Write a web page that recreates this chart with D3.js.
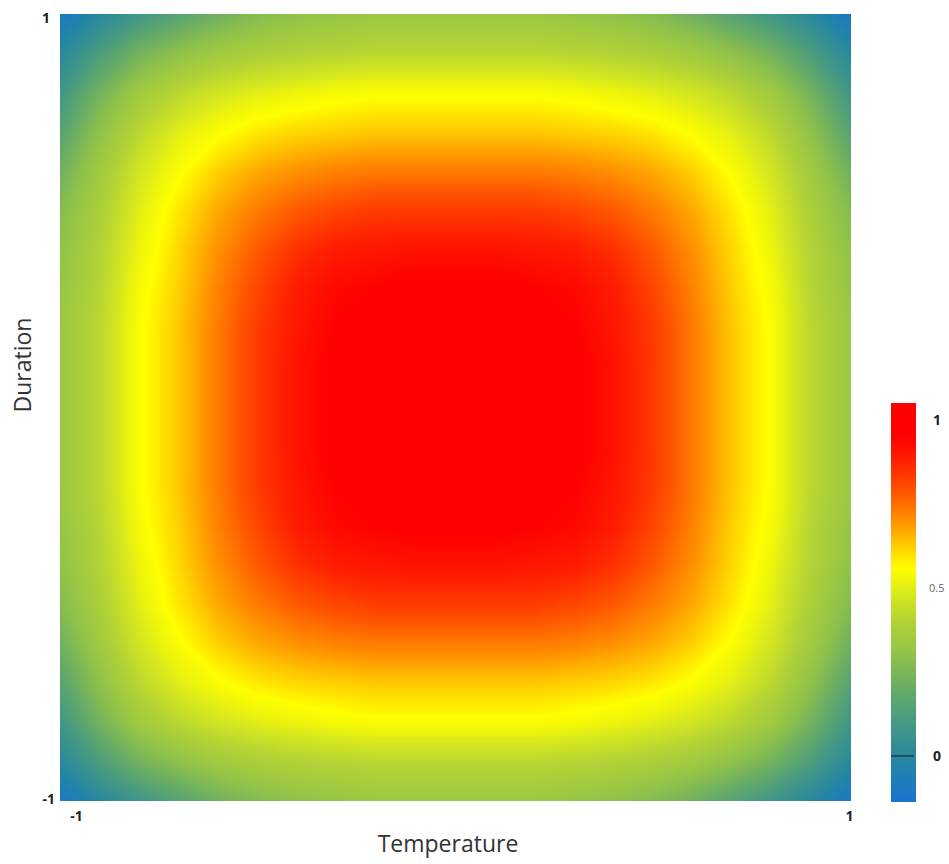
<!DOCTYPE html>
<html>
<head>
<meta charset="utf-8">
<script src="https://cdn.jsdelivr.net/npm/d3@7/dist/d3.min.js"></script>
<style>
  body { margin: 0; background: #fff; }
  svg text { font-family: "Open Sans", sans-serif; fill: #333; }
  .tick-lbl { font-weight: bold; font-size: 14px; fill: #222; }
</style>
</head>
<body>
<svg id="chart" width="949" height="864"></svg>
<script>
// grid columns (Temperature) and rows (Duration, top to bottom)
var temperature = [-1, -0.9, -0.8, -0.7, -0.6, -0.5, -0.4, -0.3, -0.2, -0.1, 0, 0.1, 0.2, 0.3, 0.4, 0.5, 0.6, 0.7, 0.8, 0.9, 1];
var duration = [1, 0.9, 0.8, 0.7, 0.6, 0.5, 0.4, 0.3, 0.2, 0.1, 0, -0.1, -0.2, -0.3, -0.4, -0.5, -0.6, -0.7, -0.8, -0.9, -1];

// response values, one row per duration value
var response = [
  [-0.09,0.00,0.08,0.15,0.22,0.27,0.30,0.32,0.33,0.33,0.33,0.33,0.33,0.32,0.30,0.27,0.22,0.15,0.08,0.00,-0.09],
  [0.00,0.12,0.23,0.30,0.35,0.38,0.40,0.41,0.42,0.42,0.42,0.42,0.42,0.41,0.40,0.38,0.35,0.30,0.23,0.12,0.00],
  [0.08,0.23,0.35,0.42,0.47,0.50,0.52,0.54,0.55,0.55,0.55,0.55,0.55,0.54,0.52,0.50,0.47,0.42,0.35,0.23,0.08],
  [0.15,0.30,0.42,0.50,0.55,0.59,0.61,0.62,0.63,0.63,0.63,0.63,0.63,0.62,0.61,0.59,0.55,0.50,0.42,0.30,0.15],
  [0.22,0.35,0.47,0.55,0.62,0.67,0.70,0.72,0.73,0.73,0.73,0.73,0.73,0.72,0.70,0.67,0.62,0.55,0.47,0.35,0.22],
  [0.27,0.38,0.50,0.59,0.67,0.73,0.78,0.81,0.83,0.83,0.83,0.83,0.83,0.81,0.78,0.73,0.67,0.59,0.50,0.38,0.27],
  [0.30,0.40,0.52,0.61,0.70,0.78,0.85,0.89,0.90,0.91,0.91,0.91,0.90,0.89,0.85,0.78,0.70,0.61,0.52,0.40,0.30],
  [0.32,0.41,0.54,0.62,0.72,0.81,0.89,0.93,0.95,0.96,0.96,0.96,0.95,0.93,0.89,0.81,0.72,0.62,0.54,0.41,0.32],
  [0.33,0.42,0.55,0.63,0.73,0.83,0.90,0.95,0.98,0.99,0.99,0.99,0.98,0.95,0.90,0.83,0.73,0.63,0.55,0.42,0.33],
  [0.33,0.42,0.55,0.63,0.73,0.83,0.91,0.96,0.99,1.00,1.00,1.00,0.99,0.96,0.91,0.83,0.73,0.63,0.55,0.42,0.33],
  [0.33,0.42,0.55,0.63,0.73,0.83,0.91,0.96,0.99,1.00,1.00,1.00,0.99,0.96,0.91,0.83,0.73,0.63,0.55,0.42,0.33],
  [0.33,0.42,0.55,0.63,0.73,0.83,0.91,0.96,0.99,1.00,1.00,1.00,0.99,0.96,0.91,0.83,0.73,0.63,0.55,0.42,0.33],
  [0.33,0.42,0.55,0.63,0.73,0.83,0.90,0.95,0.98,0.99,0.99,0.99,0.98,0.95,0.90,0.83,0.73,0.63,0.55,0.42,0.33],
  [0.32,0.41,0.54,0.62,0.72,0.81,0.89,0.93,0.95,0.96,0.96,0.96,0.95,0.93,0.89,0.81,0.72,0.62,0.54,0.41,0.32],
  [0.30,0.40,0.52,0.61,0.70,0.78,0.85,0.89,0.90,0.91,0.91,0.91,0.90,0.89,0.85,0.78,0.70,0.61,0.52,0.40,0.30],
  [0.27,0.38,0.50,0.59,0.67,0.73,0.78,0.81,0.83,0.83,0.83,0.83,0.83,0.81,0.78,0.73,0.67,0.59,0.50,0.38,0.27],
  [0.22,0.35,0.47,0.55,0.62,0.67,0.70,0.72,0.73,0.73,0.73,0.73,0.73,0.72,0.70,0.67,0.62,0.55,0.47,0.35,0.22],
  [0.15,0.30,0.42,0.50,0.55,0.59,0.61,0.62,0.63,0.63,0.63,0.63,0.63,0.62,0.61,0.59,0.55,0.50,0.42,0.30,0.15],
  [0.08,0.23,0.35,0.42,0.47,0.50,0.52,0.54,0.55,0.55,0.55,0.55,0.55,0.54,0.52,0.50,0.47,0.42,0.35,0.23,0.08],
  [0.00,0.12,0.23,0.30,0.35,0.38,0.40,0.41,0.42,0.42,0.42,0.42,0.42,0.41,0.40,0.38,0.35,0.30,0.23,0.12,0.00],
  [-0.09,0.00,0.08,0.15,0.22,0.27,0.30,0.32,0.33,0.33,0.33,0.33,0.33,0.32,0.30,0.27,0.22,0.15,0.08,0.00,-0.09]
];

var axisTicks = [-1, 1];
var barTicks = [0, 0.5, 1];
var barRange = [-0.137, 1.05];

// colour ramp: blue -> green -> yellow -> orange -> red
var rampValues = [-0.14, -0.05, 0, 0.1, 0.2, 0.3, 0.4, 0.48, 0.52, 0.56, 0.63, 0.7, 0.78, 0.87, 0.95, 1.05];
var rampColors = ["#1a74cc", "#1f80b4", "#2a889e", "#469a82", "#68ac66", "#90c24a", "#b2d236",
                  "#d6e81e", "#eef40c", "#ffff00", "#ffc800", "#ff9000", "#ff5800", "#ff2400", "#ff0000", "#ff0000"];

var color = d3.scaleLinear().domain(rampValues).range(rampColors).interpolate(d3.interpolateRgb).clamp(true);

var plotL = 60, plotR = 851, plotT = 14, plotB = 801;

var svg = d3.select("#chart");

var xScale = d3.scaleLinear().domain([-1, 1]).range([plotL, plotR]);
var yScale = d3.scaleLinear().domain([-1, 1]).range([plotB, plotT]);

// grid coordinates from d3.contours: value i sits at i + 0.5
var n = temperature.length, m = duration.length;
var gx = d3.scaleLinear().domain([0.5, n - 0.5]).range([xScale(temperature[0]), xScale(temperature[n - 1])]);
var gy = d3.scaleLinear().domain([0.5, m - 0.5]).range([yScale(duration[0]), yScale(duration[m - 1])]);

var proj = d3.geoTransform({
  point: function(x, y) { this.stream.point(gx(x), gy(y)); }
});
var path = d3.geoPath(proj);

var defs = svg.append("defs");
defs.append("clipPath").attr("id", "plotClip")
  .append("rect")
  .attr("x", plotL).attr("y", plotT)
  .attr("width", plotR - plotL).attr("height", plotB - plotT);

var flat = [].concat.apply([], response);
var step = 0.004;
var thresholds = d3.range(-0.1, 1.0, step);
var contours = d3.contours().size([n, m]).thresholds(thresholds)(flat);

var heat = svg.append("g").attr("clip-path", "url(#plotClip)");

heat.append("rect")
  .attr("x", plotL).attr("y", plotT)
  .attr("width", plotR - plotL).attr("height", plotB - plotT)
  .attr("fill", color(d3.min(flat)));

heat.selectAll("path.band")
  .data(contours)
  .enter().append("path")
  .attr("class", "band")
  .attr("d", path)
  .attr("fill", function(d) { return color(d.value + step / 2); });

// axes: only the end labels are shown
var fmt = function(d) { return String(d); };

var yAxis = d3.axisLeft(yScale).tickValues(axisTicks).tickSize(0).tickPadding(8).tickFormat(fmt);
svg.append("g")
  .attr("transform", "translate(" + plotL + ",0)")
  .call(yAxis)
  .call(function(g) {
    g.select(".domain").remove();
    g.selectAll("text").attr("class", "tick-lbl")
      .attr("dy", function(d) { return d > 0 ? "0.6em" : "0.2em"; })
      .attr("x", function(d) { return d > 0 ? -10 : -5; });
  });

var xAxis = d3.axisBottom(xScale).tickValues(axisTicks).tickSize(0).tickPadding(10).tickFormat(fmt);
svg.append("g")
  .attr("transform", "translate(0," + plotB + ")")
  .call(xAxis)
  .call(function(g) {
    g.select(".domain").remove();
    g.selectAll("text").attr("class", "tick-lbl")
      .attr("dx", function(d) { return d < 0 ? 16 : -2; })
      .attr("y", 10);
  });
svg.selectAll("g").attr("font-family", null).attr("font-size", null);

svg.append("text")
  .attr("x", 448).attr("y", 852)
  .attr("text-anchor", "middle")
  .style("font-size", "23px")
  .text("Temperature");

svg.append("text")
  .attr("transform", "translate(31,365)rotate(-90)")
  .attr("text-anchor", "middle")
  .style("font-size", "23px")
  .text("Duration");

// colour bar
var barX = 891, barW = 25;
var barScale = d3.scaleLinear().domain(barRange).range([802, 403]);

var grad = defs.append("linearGradient")
  .attr("id", "barGrad")
  .attr("x1", 0).attr("y1", 1).attr("x2", 0).attr("y2", 0);
grad.selectAll("stop")
  .data(d3.range(0, 1.0001, 0.02))
  .enter().append("stop")
  .attr("offset", function(t) { return t; })
  .attr("stop-color", function(t) { return color(barRange[0] + t * (barRange[1] - barRange[0])); });

svg.append("rect")
  .attr("x", barX).attr("y", barScale(barRange[1]))
  .attr("width", barW).attr("height", barScale(barRange[0]) - barScale(barRange[1]))
  .attr("fill", "url(#barGrad)");

svg.append("line")
  .attr("x1", barX).attr("x2", barX + barW - 2)
  .attr("y1", barScale(0)).attr("y2", barScale(0))
  .attr("stroke", "#1b4d5e").attr("stroke-width", 2);

svg.selectAll("text.bar-lbl")
  .data(barTicks)
  .enter().append("text")
  .attr("class", function(d) { return d === 0.5 ? "bar-lbl" : "bar-lbl tick-lbl"; })
  .attr("x", function(d) { return d === 0.5 ? 929 : 933; })
  .attr("y", function(d) { return barScale(d); })
  .attr("dy", "0.35em")
  .style("font-size", function(d) { return d === 0.5 ? "11px" : null; })
  .style("fill", function(d) { return d === 0.5 ? "#666" : null; })
  .text(function(d) { return d; });
</script>
</body>
</html>
